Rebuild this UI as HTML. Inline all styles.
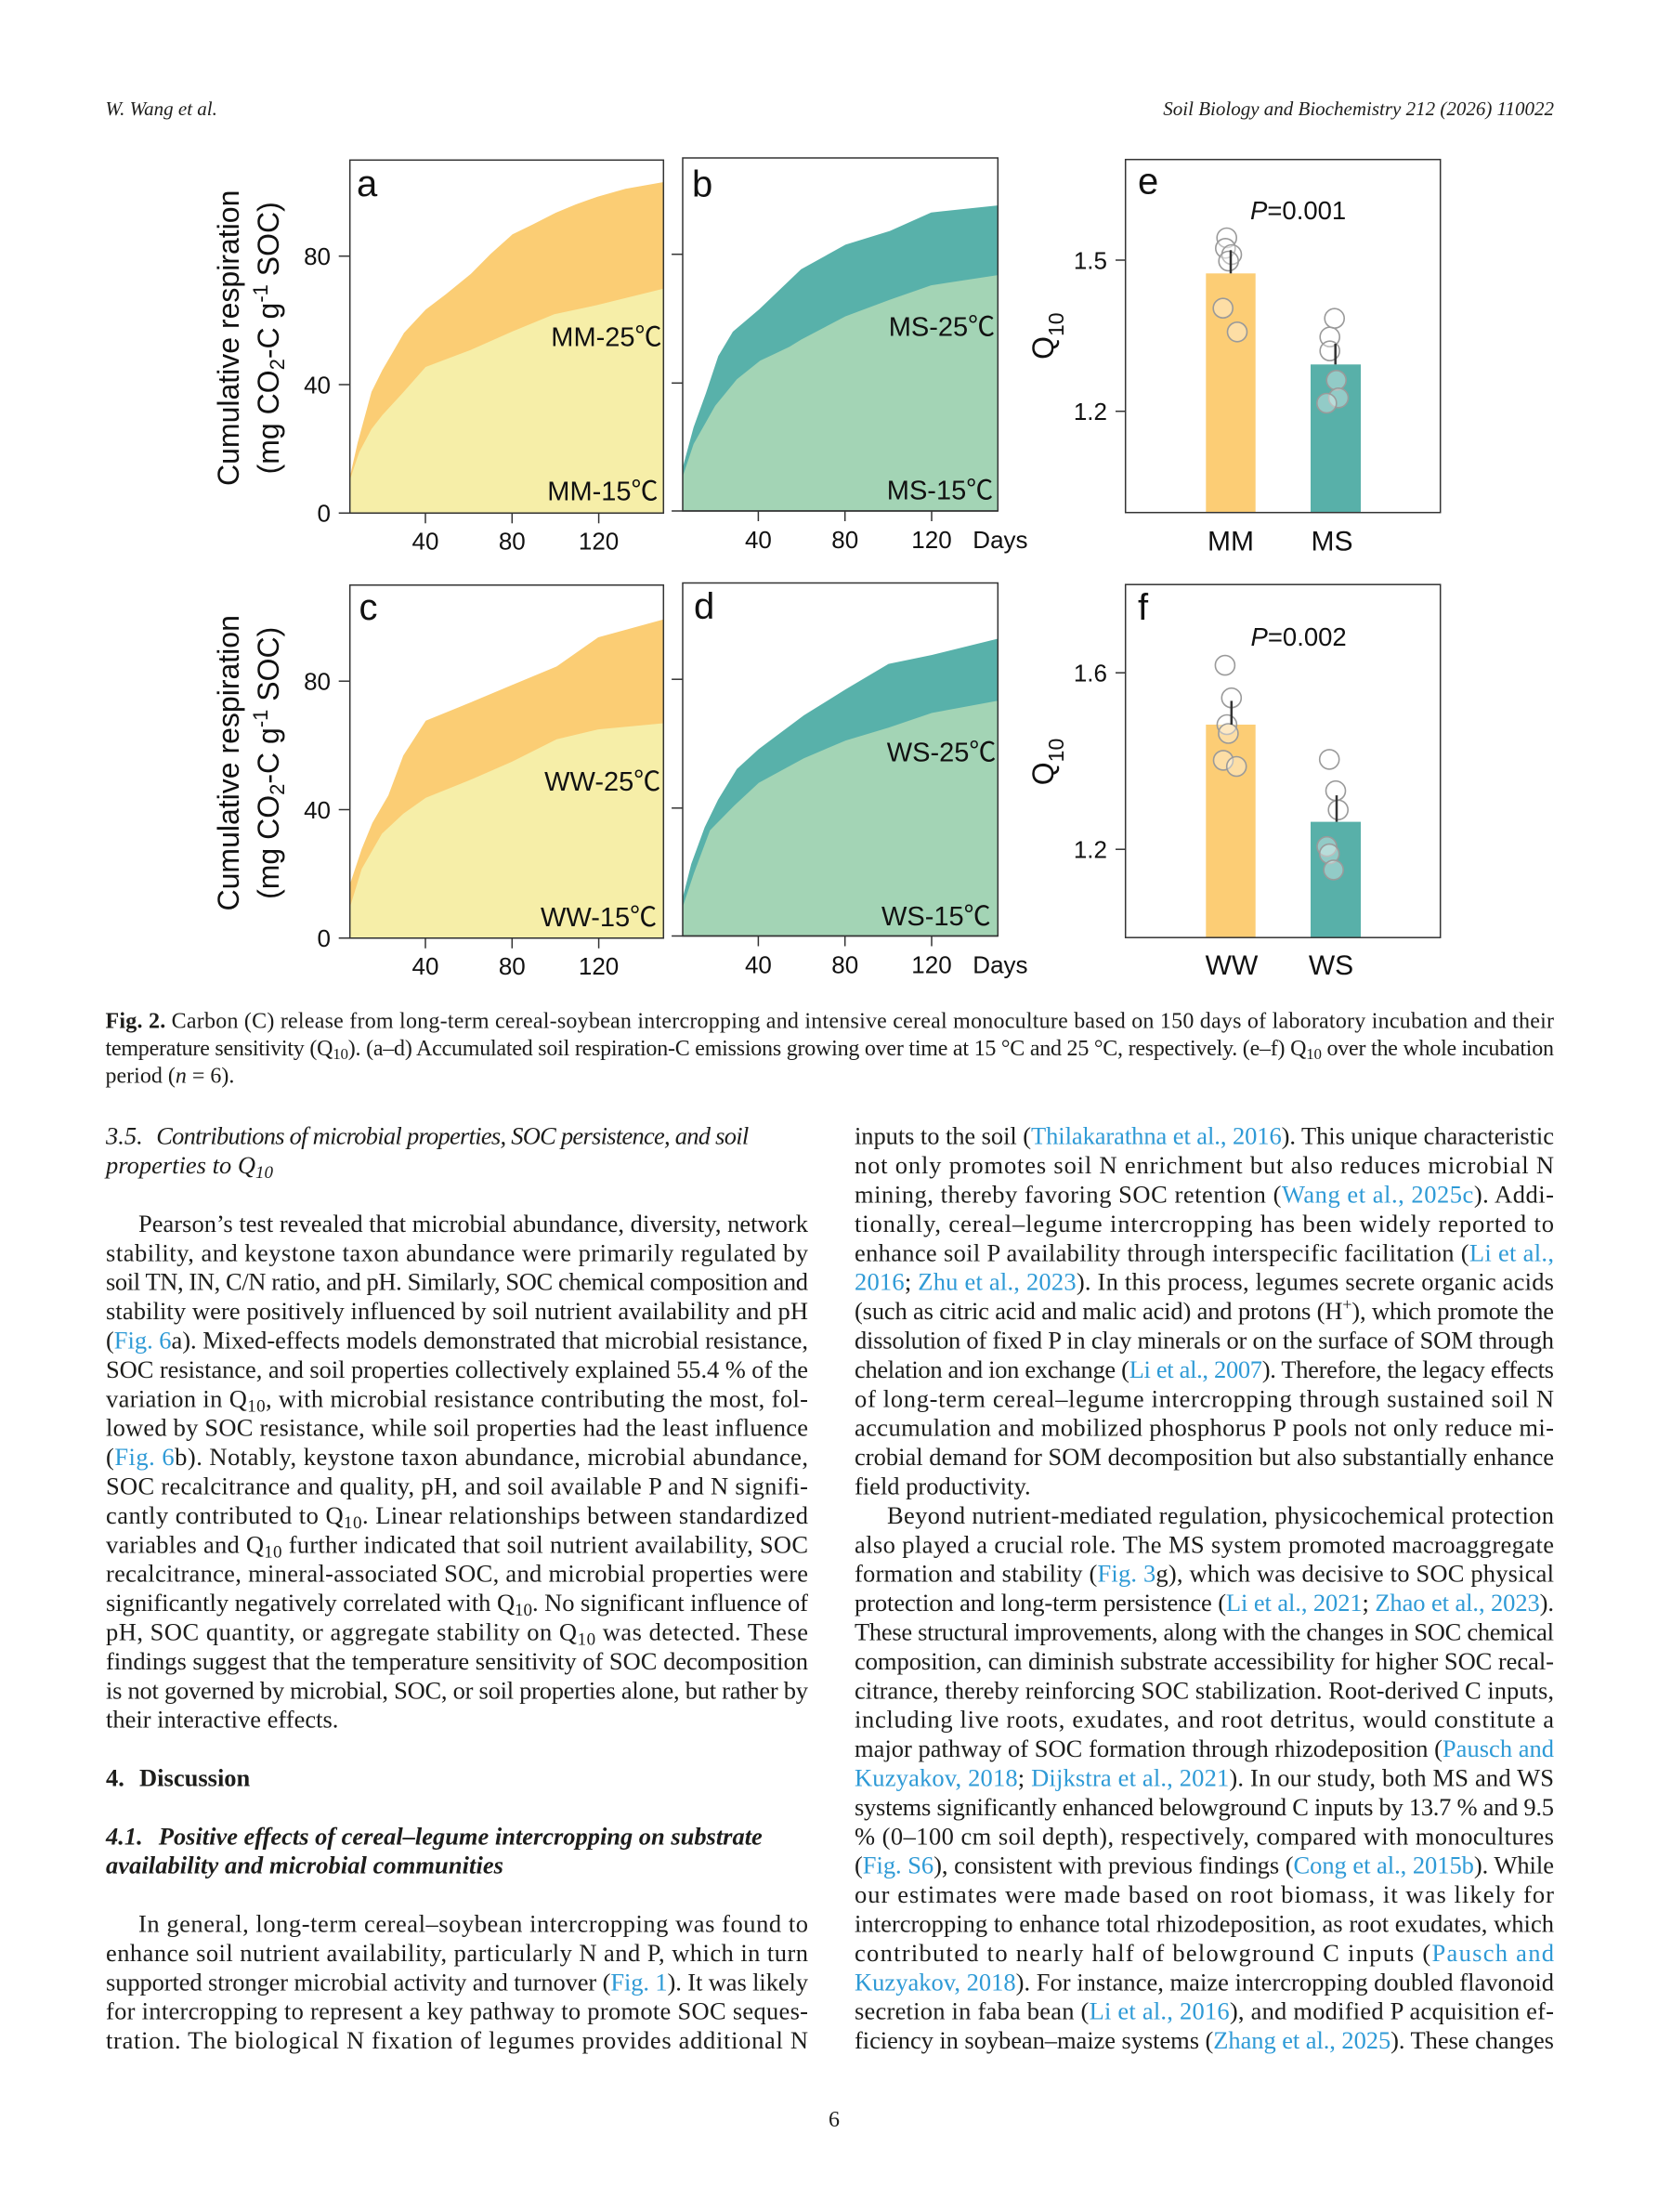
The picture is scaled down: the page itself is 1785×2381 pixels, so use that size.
<!DOCTYPE html>
<html><head><meta charset="utf-8"><style>
html,body{margin:0;padding:0;background:#fff}
svg{display:block}
.t{font-family:"Liberation Serif",serif;font-size:26.5px;fill:#1d1d1b}
.c{font-family:"Liberation Serif",serif;font-size:24px;fill:#1d1d1b}
.l{fill:#2e9ad6}
.s{font-family:"Liberation Sans","Noto Sans CJK SC",sans-serif;fill:#111}
.k{font-size:26px}
.lab{font-size:29px}
.pl{font-size:40px}
</style></head><body>
<svg width="1785" height="2381" viewBox="0 0 1785 2381" xmlns="http://www.w3.org/2000/svg">
<rect width="1785" height="2381" fill="#fff"/>

<!-- header -->
<text x="113.5" y="124" font-family="Liberation Serif, serif" font-style="italic" font-size="21" fill="#1d1d1b">W. Wang et al.</text>
<text x="1673" y="124" text-anchor="end" font-family="Liberation Serif, serif" font-style="italic" font-size="21" fill="#1d1d1b">Soil Biology and Biochemistry 212 (2026) 110022</text>

<!-- ===== Panel a ===== -->
<polygon fill="#fbcd74" points="376.7,513.3 385,476.7 400,421.7 411.7,398.3 435,358.3 458.3,333.3 480,316.7 506.7,295 528.3,273.3 551.7,252.3 573.3,241.7 598.3,229 620,220 643.3,211.7 673.3,203.3 714.3,196 714.3,552.3 376.7,552.3"/>
<polygon fill="#f6eea8" points="376.7,516.7 386.7,486.7 400,461.7 411.7,446.7 433.3,423.3 458.3,395 480,386.7 506.7,376.7 551.7,356.7 596.7,338.3 643.3,328.3 714.3,310.7 714.3,552.3 376.7,552.3"/>
<rect x="376.7" y="172.3" width="337.6" height="380" fill="none" stroke="#333" stroke-width="1.5"/>
<g stroke="#333" stroke-width="1.5">
<line x1="364.7" y1="552.3" x2="714.3" y2="552.3"/>
<line x1="364.7" y1="275.7" x2="376.7" y2="275.7"/>
<line x1="364.7" y1="414" x2="376.7" y2="414"/>
<line x1="458" y1="552.3" x2="458" y2="563.3"/>
<line x1="551.3" y1="552.3" x2="551.3" y2="563.3"/>
<line x1="644.6" y1="552.3" x2="644.6" y2="563.3"/>
</g>
<g class="s k">
<text x="356" y="285" text-anchor="end">80</text>
<text x="356" y="423.3" text-anchor="end">40</text>
<text x="356" y="561.6" text-anchor="end">0</text>
<text x="458" y="591.7" text-anchor="middle">40</text>
<text x="551.3" y="591.7" text-anchor="middle">80</text>
<text x="644.6" y="591.7" text-anchor="middle">120</text>
</g>
<text class="s pl" x="384" y="211">a</text>
<text class="s lab" x="593.3" y="372.7">MM-25℃</text>
<text class="s lab" x="589.3" y="538.3">MM-15℃</text>

<!-- y-axis title a -->
<text class="s" font-size="32" transform="translate(257,363.8) rotate(-90)" text-anchor="middle">Cumulative respiration</text>
<text class="s" font-size="32" transform="translate(300,363.8) rotate(-90)" text-anchor="middle">(mg CO<tspan font-size="22" dy="6">2</tspan><tspan dy="-6">-C g</tspan><tspan font-size="22" dy="-12">-1</tspan><tspan dy="12"> SOC)</tspan></text>

<!-- ===== Panel b ===== -->
<polygon fill="#58b1aa" points="735,503.3 746.7,460 760,423.3 773.3,383.3 789,357 817.3,333 862.4,289.9 910.2,263.4 958,248.6 1002.5,228.7 1074.3,221.1 1074.3,550 735,550"/>
<polygon fill="#a3d4b5" points="735,513 746.7,478 770,436.7 793.3,408.3 818.3,388.3 850,373.3 862.4,365.6 910.2,340.5 958,322.6 1002.5,307.1 1074.3,296.1 1074.3,550 735,550"/>
<rect x="735" y="170" width="339.3" height="380" fill="none" stroke="#333" stroke-width="1.5"/>
<g stroke="#333" stroke-width="1.5">
<line x1="723.1" y1="550" x2="1074.3" y2="550"/>
<line x1="723.1" y1="273.7" x2="735" y2="273.7"/>
<line x1="723.1" y1="412.3" x2="735" y2="412.3"/>
<line x1="816.4" y1="550" x2="816.4" y2="561"/>
<line x1="909.7" y1="550" x2="909.7" y2="561"/>
<line x1="1003" y1="550" x2="1003" y2="561"/>
</g>
<g class="s k">
<text x="816.4" y="590" text-anchor="middle">40</text>
<text x="909.7" y="590" text-anchor="middle">80</text>
<text x="1003" y="590" text-anchor="middle">120</text>
<text x="1047.3" y="590">Days</text>
</g>
<text class="s pl" x="745" y="211.7">b</text>
<text class="s lab" x="956.7" y="361.5">MS-25℃</text>
<text class="s lab" x="954.8" y="537.7">MS-15℃</text>

<!-- ===== Panel e ===== -->
<rect x="1298.3" y="294.3" width="53.4" height="257.4" fill="#fccd75"/>
<rect x="1411" y="392.3" width="54" height="159.4" fill="#58b0a9"/>
<g fill="#ffffff" fill-opacity="0.35" stroke="#9a9a9a" stroke-width="1.6">
<circle cx="1320.7" cy="256" r="10.5"/>
<circle cx="1319.3" cy="267.3" r="10.5"/>
<circle cx="1326" cy="274" r="10.5"/>
<circle cx="1322.7" cy="281" r="10.5"/>
<circle cx="1316.7" cy="331.7" r="10.5"/>
<circle cx="1332" cy="357.3" r="10.5"/>
<circle cx="1436.7" cy="342.7" r="10.5"/>
<circle cx="1431.7" cy="362.7" r="10.5"/>
<circle cx="1431.7" cy="377.7" r="10.5"/>
<circle cx="1438.7" cy="409.3" r="10.5"/>
<circle cx="1441" cy="428.3" r="10.5"/>
<circle cx="1428.3" cy="434" r="10.5"/>
</g>
<g stroke="#333" stroke-width="2.5">
<line x1="1325" y1="294.3" x2="1325" y2="269.3"/>
<line x1="1437.7" y1="392.3" x2="1437.7" y2="370"/>
</g>
<rect x="1211.7" y="171.7" width="339" height="380" fill="none" stroke="#333" stroke-width="1.5"/>
<g stroke="#333" stroke-width="1.5">
<line x1="1201" y1="280" x2="1211.7" y2="280"/>
<line x1="1201" y1="442.7" x2="1211.7" y2="442.7"/>
</g>
<g class="s k">
<text x="1192" y="289.3" text-anchor="end">1.5</text>
<text x="1192" y="452" text-anchor="end">1.2</text>
</g>
<text class="s" font-size="32" transform="translate(1134,361.7) rotate(-90)" text-anchor="middle">Q<tspan font-size="23" dy="11">10</tspan></text>
<text class="s pl" x="1225" y="208.3">e</text>
<text class="s" font-size="27.5" x="1346" y="236"><tspan font-style="italic">P</tspan>=0.001</text>
<text class="s" font-size="30" x="1325" y="592.7" text-anchor="middle">MM</text>
<text class="s" font-size="30" x="1434" y="592.7" text-anchor="middle">MS</text>

<!-- ===== Panel c ===== -->
<polygon fill="#fbcd74" points="376.7,952 389.4,913.9 400.9,885.8 418.1,856.1 434.2,813.2 458.4,775.8 504.4,757 551.5,737.2 599.3,717.4 644.1,686 714.3,666.8 714.3,1009.8 376.7,1009.8"/>
<polygon fill="#f6eea8" points="376.7,976.7 389.4,935.4 411.2,897.4 434.2,875.9 458.4,858.8 504.4,840.3 551.5,819.8 599.3,795.7 644.1,785.1 714.3,778.5 714.3,1009.8 376.7,1009.8"/>
<rect x="376.7" y="629.8" width="337.6" height="380" fill="none" stroke="#333" stroke-width="1.5"/>
<g stroke="#333" stroke-width="1.5">
<line x1="364.7" y1="1009.8" x2="714.3" y2="1009.8"/>
<line x1="364.7" y1="733.2" x2="376.7" y2="733.2"/>
<line x1="364.7" y1="871.5" x2="376.7" y2="871.5"/>
<line x1="458" y1="1009.8" x2="458" y2="1020.8"/>
<line x1="551.3" y1="1009.8" x2="551.3" y2="1020.8"/>
<line x1="644.6" y1="1009.8" x2="644.6" y2="1020.8"/>
</g>
<g class="s k">
<text x="356" y="742.5" text-anchor="end">80</text>
<text x="356" y="880.8" text-anchor="end">40</text>
<text x="356" y="1019.1" text-anchor="end">0</text>
<text x="458" y="1049.2" text-anchor="middle">40</text>
<text x="551.3" y="1049.2" text-anchor="middle">80</text>
<text x="644.6" y="1049.2" text-anchor="middle">120</text>
</g>
<text class="s pl" x="386.5" y="666.8">c</text>
<text class="s lab" x="586.1" y="851.2">WW-25℃</text>
<text class="s lab" x="582" y="997.2">WW-15℃</text>
<text class="s" font-size="32" transform="translate(257,821.3) rotate(-90)" text-anchor="middle">Cumulative respiration</text>
<text class="s" font-size="32" transform="translate(300,821.3) rotate(-90)" text-anchor="middle">(mg CO<tspan font-size="22" dy="6">2</tspan><tspan dy="-6">-C g</tspan><tspan font-size="22" dy="-12">-1</tspan><tspan dy="12"> SOC)</tspan></text>

<!-- ===== Panel d ===== -->
<polygon fill="#58b1aa" points="735,966.3 744.2,930 758.7,890.4 773.1,860.7 793.3,827.7 816.9,806.3 865.4,770 910.4,742 956.6,714.6 1003.3,705 1074.3,687.5 1074.3,1007.5 735,1007.5"/>
<polygon fill="#a3d4b5" points="735,976.2 747.1,939.9 764.4,893.7 790.4,867.3 816.9,842.6 865.4,816.2 910.4,797.1 956.6,783.2 1003.3,767.4 1074.3,754.2 1074.3,1007.5 735,1007.5"/>
<rect x="735" y="627.5" width="339.3" height="380" fill="none" stroke="#333" stroke-width="1.5"/>
<g stroke="#333" stroke-width="1.5">
<line x1="723.1" y1="1007.5" x2="1074.3" y2="1007.5"/>
<line x1="723.1" y1="731.2" x2="735" y2="731.2"/>
<line x1="723.1" y1="869.8" x2="735" y2="869.8"/>
<line x1="816.4" y1="1007.5" x2="816.4" y2="1018.5"/>
<line x1="909.7" y1="1007.5" x2="909.7" y2="1018.5"/>
<line x1="1003" y1="1007.5" x2="1003" y2="1018.5"/>
</g>
<g class="s k">
<text x="816.4" y="1047.5" text-anchor="middle">40</text>
<text x="909.7" y="1047.5" text-anchor="middle">80</text>
<text x="1003" y="1047.5" text-anchor="middle">120</text>
<text x="1047.3" y="1047.5">Days</text>
</g>
<text class="s pl" x="747" y="666">d</text>
<text class="s lab" x="954.8" y="819.5">WS-25℃</text>
<text class="s lab" x="949" y="996">WS-15℃</text>

<!-- ===== Panel f ===== -->
<rect x="1298.3" y="780" width="53.4" height="229.2" fill="#fccd75"/>
<rect x="1411" y="884.6" width="54" height="124.6" fill="#58b0a9"/>
<g fill="#ffffff" fill-opacity="0.35" stroke="#9a9a9a" stroke-width="1.6">
<circle cx="1318.9" cy="716.1" r="10.5"/>
<circle cx="1325.8" cy="751.2" r="10.5"/>
<circle cx="1320.9" cy="780" r="10.5"/>
<circle cx="1322.4" cy="789.5" r="10.5"/>
<circle cx="1317" cy="818.4" r="10.5"/>
<circle cx="1331.2" cy="825" r="10.5"/>
<circle cx="1431.2" cy="817.4" r="10.5"/>
<circle cx="1438" cy="851.2" r="10.5"/>
<circle cx="1440.7" cy="871.8" r="10.5"/>
<circle cx="1428.5" cy="911.2" r="10.5"/>
<circle cx="1431.2" cy="919.1" r="10.5"/>
<circle cx="1435.7" cy="936.4" r="10.5"/>
</g>
<g stroke="#333" stroke-width="2.5">
<line x1="1325.8" y1="780" x2="1325.8" y2="754.4"/>
<line x1="1439" y1="884.6" x2="1439" y2="856.1"/>
</g>
<rect x="1211.7" y="629.2" width="339" height="380" fill="none" stroke="#333" stroke-width="1.5"/>
<g stroke="#333" stroke-width="1.5">
<line x1="1201" y1="724.2" x2="1211.7" y2="724.2"/>
<line x1="1201" y1="914.2" x2="1211.7" y2="914.2"/>
</g>
<g class="s k">
<text x="1192" y="733.5" text-anchor="end">1.6</text>
<text x="1192" y="923.5" text-anchor="end">1.2</text>
</g>
<text class="s" font-size="32" transform="translate(1134,820) rotate(-90)" text-anchor="middle">Q<tspan font-size="23" dy="11">10</tspan></text>
<text class="s pl" x="1225" y="667">f</text>
<text class="s" font-size="27.5" x="1346.5" y="695"><tspan font-style="italic">P</tspan>=0.002</text>
<text class="s" font-size="30" x="1326" y="1049" text-anchor="middle">WW</text>
<text class="s" font-size="30" x="1433" y="1049" text-anchor="middle">WS</text>

<!-- ===== Caption ===== -->
<text class="c" x="113.5" y="1106.6" textLength="1559.5" lengthAdjust="spacing"><tspan font-weight="bold">Fig. 2.</tspan> Carbon (C) release from long-term cereal-soybean intercropping and intensive cereal monoculture based on 150 days of laboratory incubation and their</text>
<text class="c" x="113.5" y="1136.1" textLength="1559.5" lengthAdjust="spacing">temperature sensitivity (Q<tspan font-size="17" dy="4">10</tspan><tspan dy="-4">). (a–d) Accumulated soil respiration-C emissions growing over time at 15 °C and 25 °C, respectively. (e–f) Q</tspan><tspan font-size="17" dy="4">10</tspan><tspan dy="-4"> over the whole incubation</tspan></text>
<text class="c" x="113.5" y="1165.6">period (<tspan font-style="italic">n</tspan> = 6).</text>

<!-- ===== Left column ===== -->
<text class="t" x="114" y="1231.7" font-style="italic">3.5.</text>
<text class="t" x="168.2" y="1231.7" font-style="italic" textLength="638" lengthAdjust="spacing">Contributions of microbial properties, SOC persistence, and soil</text>
<text class="t" x="114" y="1263.1" font-style="italic">properties to Q<tspan font-size="19" dy="5">10</tspan></text>

<text class="t" x="149" y="1325.9" textLength="721" lengthAdjust="spacing">Pearson’s test revealed that microbial abundance, diversity, network</text>
<text class="t" x="114" y="1357.3" textLength="756" lengthAdjust="spacing">stability, and keystone taxon abundance were primarily regulated by</text>
<text class="t" x="114" y="1388.7" textLength="756" lengthAdjust="spacing">soil TN, IN, C/N ratio, and pH. Similarly, SOC chemical composition and</text>
<text class="t" x="114" y="1420.1" textLength="756" lengthAdjust="spacing">stability were positively influenced by soil nutrient availability and pH</text>
<text class="t" x="114" y="1451.5" textLength="756" lengthAdjust="spacing">(<tspan class="l">Fig. 6</tspan>a). Mixed-effects models demonstrated that microbial resistance,</text>
<text class="t" x="114" y="1482.9" textLength="756" lengthAdjust="spacing">SOC resistance, and soil properties collectively explained 55.4 % of the</text>
<text class="t" x="114" y="1514.3" textLength="756" lengthAdjust="spacing">variation in Q<tspan font-size="19" dy="5">10</tspan><tspan dy="-5">, with microbial resistance contributing the most, fol-</tspan></text>
<text class="t" x="114" y="1545.7" textLength="756" lengthAdjust="spacing">lowed by SOC resistance, while soil properties had the least influence</text>
<text class="t" x="114" y="1577.1" textLength="756" lengthAdjust="spacing">(<tspan class="l">Fig. 6</tspan>b). Notably, keystone taxon abundance, microbial abundance,</text>
<text class="t" x="114" y="1608.5" textLength="756" lengthAdjust="spacing">SOC recalcitrance and quality, pH, and soil available P and N signifi-</text>
<text class="t" x="114" y="1639.9" textLength="756" lengthAdjust="spacing">cantly contributed to Q<tspan font-size="19" dy="5">10</tspan><tspan dy="-5">. Linear relationships between standardized</tspan></text>
<text class="t" x="114" y="1671.3" textLength="756" lengthAdjust="spacing">variables and Q<tspan font-size="19" dy="5">10</tspan><tspan dy="-5"> further indicated that soil nutrient availability, SOC</tspan></text>
<text class="t" x="114" y="1702.7" textLength="756" lengthAdjust="spacing">recalcitrance, mineral-associated SOC, and microbial properties were</text>
<text class="t" x="114" y="1734.1" textLength="756" lengthAdjust="spacing">significantly negatively correlated with Q<tspan font-size="19" dy="5">10</tspan><tspan dy="-5">. No significant influence of</tspan></text>
<text class="t" x="114" y="1765.5" textLength="756" lengthAdjust="spacing">pH, SOC quantity, or aggregate stability on Q<tspan font-size="19" dy="5">10</tspan><tspan dy="-5"> was detected. These</tspan></text>
<text class="t" x="114" y="1796.9" textLength="756" lengthAdjust="spacing">findings suggest that the temperature sensitivity of SOC decomposition</text>
<text class="t" x="114" y="1828.3" textLength="756" lengthAdjust="spacing">is not governed by microbial, SOC, or soil properties alone, but rather by</text>
<text class="t" x="114" y="1859.7">their interactive effects.</text>

<text class="t" x="114" y="1922.5" font-weight="bold">4.</text>
<text class="t" x="150" y="1922.5" font-weight="bold">Discussion</text>

<text class="t" x="114" y="1985.3" font-weight="bold" font-style="italic">4.1.</text>
<text class="t" x="170.8" y="1985.3" font-weight="bold" font-style="italic" textLength="650" lengthAdjust="spacing">Positive effects of cereal–legume intercropping on substrate</text>
<text class="t" x="114" y="2016.7" font-weight="bold" font-style="italic" textLength="428" lengthAdjust="spacing">availability and microbial communities</text>

<text class="t" x="149" y="2079.5" textLength="721" lengthAdjust="spacing">In general, long-term cereal–soybean intercropping was found to</text>
<text class="t" x="114" y="2110.9" textLength="756" lengthAdjust="spacing">enhance soil nutrient availability, particularly N and P, which in turn</text>
<text class="t" x="114" y="2142.3" textLength="756" lengthAdjust="spacing">supported stronger microbial activity and turnover (<tspan class="l">Fig. 1</tspan>). It was likely</text>
<text class="t" x="114" y="2173.7" textLength="756" lengthAdjust="spacing">for intercropping to represent a key pathway to promote SOC seques-</text>
<text class="t" x="114" y="2205.1" textLength="756" lengthAdjust="spacing">tration. The biological N fixation of legumes provides additional N</text>

<!-- ===== Right column ===== -->
<text class="t" x="920" y="1231.7" textLength="753" lengthAdjust="spacing">inputs to the soil (<tspan class="l">Thilakarathna et al., 2016</tspan>). This unique characteristic</text>
<text class="t" x="920" y="1263.1" textLength="753" lengthAdjust="spacing">not only promotes soil N enrichment but also reduces microbial N</text>
<text class="t" x="920" y="1294.5" textLength="753" lengthAdjust="spacing">mining, thereby favoring SOC retention (<tspan class="l">Wang et al., 2025c</tspan>). Addi-</text>
<text class="t" x="920" y="1325.9" textLength="753" lengthAdjust="spacing">tionally, cereal–legume intercropping has been widely reported to</text>
<text class="t" x="920" y="1357.3" textLength="753" lengthAdjust="spacing">enhance soil P availability through interspecific facilitation (<tspan class="l">Li et al.,</tspan></text>
<text class="t" x="920" y="1388.7" textLength="753" lengthAdjust="spacing"><tspan class="l">2016</tspan>; <tspan class="l">Zhu et al., 2023</tspan>). In this process, legumes secrete organic acids</text>
<text class="t" x="920" y="1420.1" textLength="753" lengthAdjust="spacing">(such as citric acid and malic acid) and protons (H<tspan font-size="18" dy="-10">+</tspan><tspan dy="10">), which promote the</tspan></text>
<text class="t" x="920" y="1451.5" textLength="753" lengthAdjust="spacing">dissolution of fixed P in clay minerals or on the surface of SOM through</text>
<text class="t" x="920" y="1482.9" textLength="753" lengthAdjust="spacing">chelation and ion exchange (<tspan class="l">Li et al., 2007</tspan>). Therefore, the legacy effects</text>
<text class="t" x="920" y="1514.3" textLength="753" lengthAdjust="spacing">of long-term cereal–legume intercropping through sustained soil N</text>
<text class="t" x="920" y="1545.7" textLength="753" lengthAdjust="spacing">accumulation and mobilized phosphorus P pools not only reduce mi-</text>
<text class="t" x="920" y="1577.1" textLength="753" lengthAdjust="spacing">crobial demand for SOM decomposition but also substantially enhance</text>
<text class="t" x="920" y="1608.5">field productivity.</text>
<text class="t" x="955" y="1639.9" textLength="718" lengthAdjust="spacing">Beyond nutrient-mediated regulation, physicochemical protection</text>
<text class="t" x="920" y="1671.3" textLength="753" lengthAdjust="spacing">also played a crucial role. The MS system promoted macroaggregate</text>
<text class="t" x="920" y="1702.7" textLength="753" lengthAdjust="spacing">formation and stability (<tspan class="l">Fig. 3</tspan>g), which was decisive to SOC physical</text>
<text class="t" x="920" y="1734.1" textLength="753" lengthAdjust="spacing">protection and long-term persistence (<tspan class="l">Li et al., 2021</tspan>; <tspan class="l">Zhao et al., 2023</tspan>).</text>
<text class="t" x="920" y="1765.5" textLength="753" lengthAdjust="spacing">These structural improvements, along with the changes in SOC chemical</text>
<text class="t" x="920" y="1796.9" textLength="753" lengthAdjust="spacing">composition, can diminish substrate accessibility for higher SOC recal-</text>
<text class="t" x="920" y="1828.3" textLength="753" lengthAdjust="spacing">citrance, thereby reinforcing SOC stabilization. Root-derived C inputs,</text>
<text class="t" x="920" y="1859.7" textLength="753" lengthAdjust="spacing">including live roots, exudates, and root detritus, would constitute a</text>
<text class="t" x="920" y="1891.1" textLength="753" lengthAdjust="spacing">major pathway of SOC formation through rhizodeposition (<tspan class="l">Pausch and</tspan></text>
<text class="t" x="920" y="1922.5" textLength="753" lengthAdjust="spacing"><tspan class="l">Kuzyakov, 2018</tspan>; <tspan class="l">Dijkstra et al., 2021</tspan>). In our study, both MS and WS</text>
<text class="t" x="920" y="1953.9" textLength="753" lengthAdjust="spacing">systems significantly enhanced belowground C inputs by 13.7 % and 9.5</text>
<text class="t" x="920" y="1985.3" textLength="753" lengthAdjust="spacing">% (0–100 cm soil depth), respectively, compared with monocultures</text>
<text class="t" x="920" y="2016.7" textLength="753" lengthAdjust="spacing">(<tspan class="l">Fig. S6</tspan>), consistent with previous findings (<tspan class="l">Cong et al., 2015b</tspan>). While</text>
<text class="t" x="920" y="2048.1" textLength="753" lengthAdjust="spacing">our estimates were made based on root biomass, it was likely for</text>
<text class="t" x="920" y="2079.5" textLength="753" lengthAdjust="spacing">intercropping to enhance total rhizodeposition, as root exudates, which</text>
<text class="t" x="920" y="2110.9" textLength="753" lengthAdjust="spacing">contributed to nearly half of belowground C inputs (<tspan class="l">Pausch and</tspan></text>
<text class="t" x="920" y="2142.3" textLength="753" lengthAdjust="spacing"><tspan class="l">Kuzyakov, 2018</tspan>). For instance, maize intercropping doubled flavonoid</text>
<text class="t" x="920" y="2173.7" textLength="753" lengthAdjust="spacing">secretion in faba bean (<tspan class="l">Li et al., 2016</tspan>), and modified P acquisition ef-</text>
<text class="t" x="920" y="2205.1" textLength="753" lengthAdjust="spacing">ficiency in soybean–maize systems (<tspan class="l">Zhang et al., 2025</tspan>). These changes</text>

<!-- page number -->
<text x="898" y="2289" text-anchor="middle" font-family="Liberation Serif, serif" font-size="24" fill="#1d1d1b">6</text>
</svg>
</body></html>
